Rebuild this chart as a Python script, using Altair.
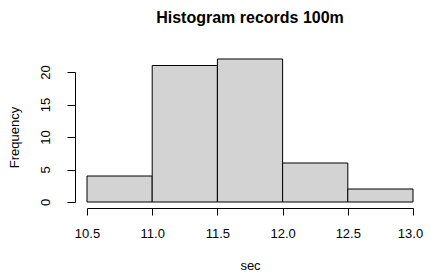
import altair as alt
import pandas as pd

bin_start = [10.5, 11.0, 11.5, 12.0, 12.5]
bin_end = [11.0, 11.5, 12.0, 12.5, 13.0]
counts = [4, 21, 22, 6, 2]

df = pd.DataFrame({"start": bin_start, "end": bin_end, "count": counts})

FONT = "Liberation Sans"

chart = alt.Chart(df).mark_rect(
    color="#D3D3D3", stroke="black", strokeWidth=1
).encode(
    x=alt.X("start:Q", scale=alt.Scale(domain=[10.5, 13], nice=False, zero=False),
            axis=alt.Axis(values=[10.5, 11, 11.5, 12, 12.5, 13], format=".1f",
                          title="sec", offset=6, tickSize=7, labelPadding=12,
                          labelFlush=False, titlePadding=19, grid=False,
                          labelOffset={"condition": {"test": "datum.value == 13", "value": -3},
                                       "value": 0})),
    x2="end:Q",
    y=alt.Y("count:Q", scale=alt.Scale(domain=[0, 20], nice=False),
            axis=alt.Axis(values=[0, 5, 10, 15, 20], title="Frequency",
                          offset=12, tickSize=8, labelAngle=270,
                          labelAlign="center", labelBaseline="bottom",
                          labelFlush=False,
                          labelPadding=15, titlePadding=18, grid=False)),
    y2=alt.datum(0),
).properties(
    width=326, height=130,
    title=alt.TitleParams("Histogram records 100m", fontSize=16, font=FONT,
                          fontWeight="bold", offset=33, anchor="middle"),
    autosize=alt.AutoSizeParams(type="none"),
    padding={"left": 79, "top": 64, "right": 10, "bottom": 70},
).configure_axis(
    domainColor="black", tickColor="black", labelColor="black", titleColor="black",
    labelFont=FONT, titleFont=FONT, labelFontSize=13, titleFontSize=13,
    titleFontWeight="normal", domainWidth=1, tickWidth=1,
).configure_view(stroke=None)

chart.save("out.html", embed_options={"renderer": "svg", "actions": False})
